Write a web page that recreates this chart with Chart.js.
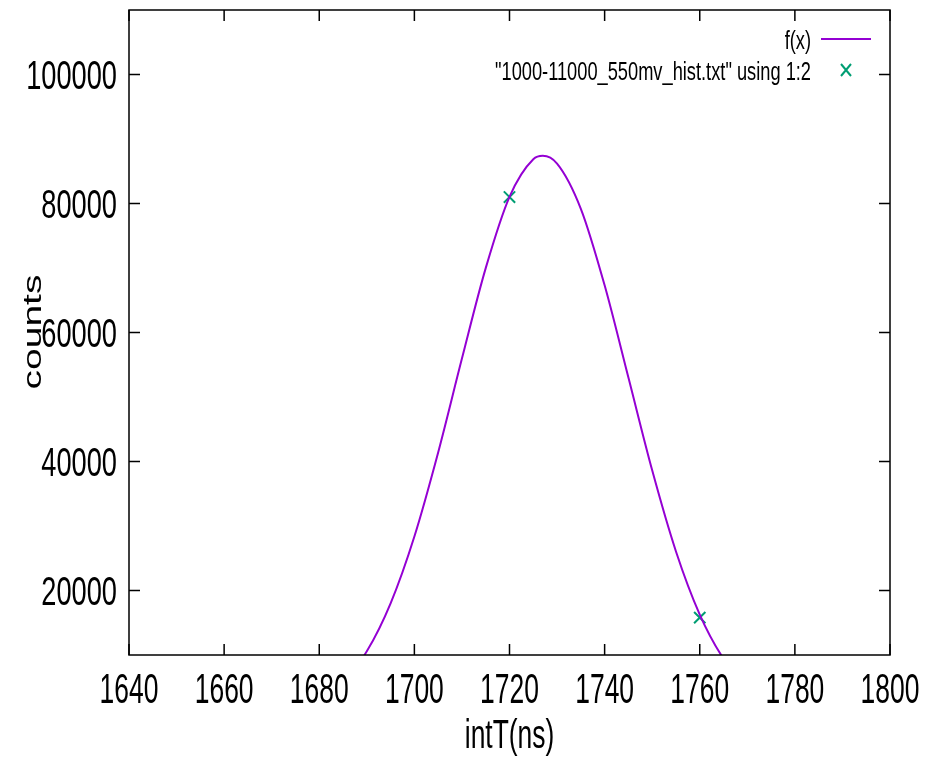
<!DOCTYPE html>
<html>
<head>
<meta charset="utf-8">
<script src="https://cdn.jsdelivr.net/npm/chart.js@4.4.0/dist/chart.umd.min.js"></script>
<style>
  html, body { margin: 0; padding: 0; background: #fff; }
  canvas { display: block; }
</style>
</head>
<body>
<canvas id="plot" width="942" height="760"></canvas>
<script>
// fitted curve f(x)
const fitX = [1680, 1685, 1690, 1695, 1700, 1705, 1710, 1715, 1720, 1725, 1727,
              1730, 1735, 1740, 1745, 1750, 1755, 1760, 1765, 1770];
const fitY = [2900, 5740, 10570, 18010, 28380, 41410, 55960, 69980, 81030, 86860, 87400,
              86190, 79180, 67310, 53010, 38630, 26050, 16270, 9420, 5040];

// histogram points
const histX = [1720, 1760];
const histY = [81000, 15800];

const xTicks = [1640, 1660, 1680, 1700, 1720, 1740, 1760, 1780, 1800];
const yTicks = [20000, 40000, 60000, 80000, 100000];

const seriesNames = ['f(x)', '"1000-11000_550mv_hist.txt" using 1:2'];
const lineColor = '#9400d3';
const markColor = '#009e73';
const FONT = '"Liberation Sans", Arial, sans-serif';

function squeezed(ctx, text, x, y, sx, size, align) {
    ctx.save();
    ctx.translate(x, y);
    ctx.scale(sx, 1);
    ctx.font = size + 'px ' + FONT;
    ctx.textAlign = align;
    ctx.textBaseline = 'alphabetic';
    ctx.fillText(text, 0, 0);
    ctx.restore();
}

// gnuplot-like frame, inward ticks, labels and key
const gnuFrame = {
    id: 'gnuFrame',
    afterDraw(chart) {
        const ctx = chart.ctx;
        const a = chart.chartArea;
        const xs = chart.scales.x, ys = chart.scales.y;
        const tl = 11;

        ctx.save();
        ctx.strokeStyle = '#000';
        ctx.lineWidth = 1.5;
        ctx.strokeRect(a.left, a.top, a.right - a.left, a.bottom - a.top);

        ctx.beginPath();
        xs.ticks.forEach(t => {
            const px = xs.getPixelForValue(t.value);
            ctx.moveTo(px, a.bottom); ctx.lineTo(px, a.bottom - tl);
            ctx.moveTo(px, a.top); ctx.lineTo(px, a.top + tl);
        });
        ys.ticks.forEach(t => {
            const py = ys.getPixelForValue(t.value);
            ctx.moveTo(a.left, py); ctx.lineTo(a.left + tl, py);
            ctx.moveTo(a.right, py); ctx.lineTo(a.right - tl, py);
        });
        ctx.stroke();

        ctx.fillStyle = '#000';
        xs.ticks.forEach(t => {
            squeezed(ctx, String(t.value), xs.getPixelForValue(t.value), a.bottom + 48, 0.63, 42, 'center');
        });
        ys.ticks.forEach(t => {
            squeezed(ctx, String(t.value), 117, ys.getPixelForValue(t.value) + 14, 0.68, 40, 'right');
        });

        // axis titles
        squeezed(ctx, 'intT(ns)', (a.left + a.right) / 2, 748, 0.66, 40, 'center');
        ctx.save();
        ctx.translate(41, 332);
        ctx.rotate(-Math.PI / 2);
        ctx.scale(1, 0.65);
        ctx.font = '39px ' + FONT;
        ctx.textAlign = 'center';
        ctx.textBaseline = 'alphabetic';
        ctx.fillText('counts', 0, 0);
        ctx.restore();

        // key (top right)
        squeezed(ctx, seriesNames[0], 811, 49, 0.73, 25, 'right');
        squeezed(ctx, seriesNames[1], 811, 80, 0.73, 25, 'right');
        ctx.strokeStyle = lineColor;
        ctx.lineWidth = 2;
        ctx.beginPath();
        ctx.moveTo(821, 39); ctx.lineTo(871, 39);
        ctx.stroke();
        ctx.strokeStyle = markColor;
        ctx.beginPath();
        ctx.moveTo(841, 64); ctx.lineTo(851, 76);
        ctx.moveTo(851, 64); ctx.lineTo(841, 76);
        ctx.stroke();
        ctx.restore();
    }
};

new Chart(document.getElementById('plot').getContext('2d'), {
    type: 'scatter',
    data: {
        datasets: [{
            label: seriesNames[0],
            data: fitX.map((x, i) => ({ x: x, y: fitY[i] })),
            showLine: true,
            borderColor: lineColor,
            borderWidth: 2,
            pointRadius: 0,
            cubicInterpolationMode: 'monotone',
            fill: false
        }, {
            label: seriesNames[1],
            data: histX.map((x, i) => ({ x: x, y: histY[i] })),
            showLine: false,
            pointStyle: 'crossRot',
            pointRadius: 8,
            borderColor: markColor,
            backgroundColor: markColor,
            borderWidth: 2
        }]
    },
    options: {
        responsive: false,
        animation: false,
        layout: { padding: { left: 121, right: 52, top: 10, bottom: 97 } },
        plugins: {
            legend: { display: false },
            tooltip: { enabled: false }
        },
        scales: {
            x: {
                type: 'linear',
                min: 1640, max: 1800,
                afterBuildTicks: s => { s.ticks = xTicks.map(v => ({ value: v })); },
                ticks: { display: false },
                grid: { display: false },
                border: { display: false }
            },
            y: {
                type: 'linear',
                min: 10000, max: 110000,
                afterBuildTicks: s => { s.ticks = yTicks.map(v => ({ value: v })); },
                ticks: { display: false },
                grid: { display: false },
                border: { display: false }
            }
        }
    },
    plugins: [gnuFrame]
});
</script>
</body>
</html>
